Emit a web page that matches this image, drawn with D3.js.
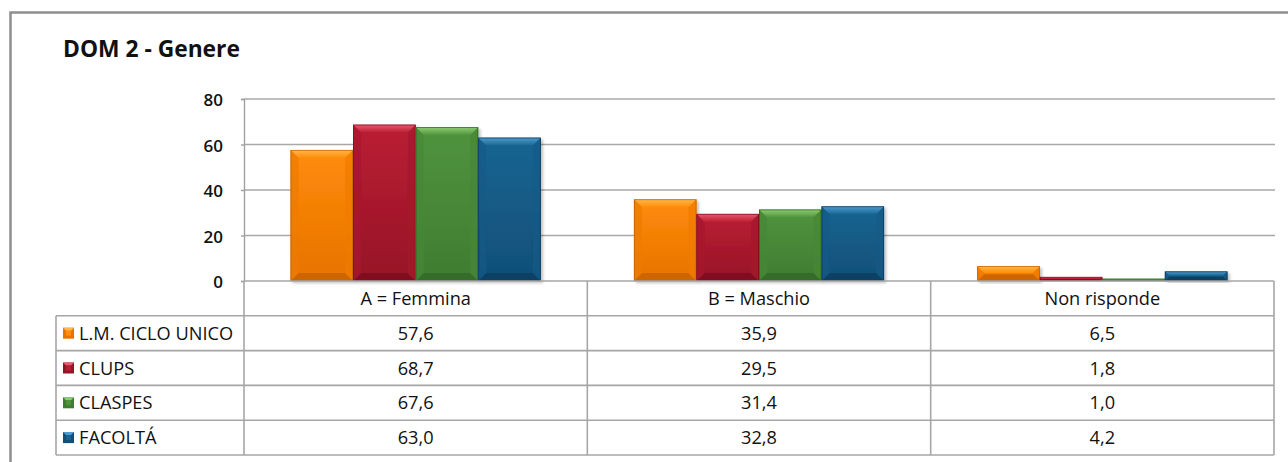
<!DOCTYPE html>
<html>
<head>
<meta charset="utf-8">
<script src="https://cdn.jsdelivr.net/npm/d3@7"></script>
<style>
  html, body { margin: 0; padding: 0; background: #fff; }
  svg { display: block; }
  text { font-family: "Open Sans", "Liberation Sans", sans-serif; fill: #111; }
</style>
</head>
<body>
<svg id="chart" width="1288" height="462"></svg>
<script>
// ---- data ----
const title = "DOM 2 - Genere";
const categories = ["A = Femmina", "B = Maschio", "Non risponde"];
const seriesNames = ["L.M. CICLO UNICO", "CLUPS", "CLASPES", "FACOLTÁ"];
const lmCicloUnico = [57.6, 35.9, 6.5];
const clups = [68.7, 29.5, 1.8];
const claspes = [67.6, 31.4, 1.0];
const facolta = [63.0, 32.8, 4.2];
const yTicks = [0, 20, 40, 60, 80];

const seriesValues = [lmCicloUnico, clups, claspes, facolta];

// ---- styles ----
const palette = [
  { body0: "#FF8C0A", body1: "#E87200", top: "#FFB84A", bottom: "#C86300", side: "#F07A00", edge: "#B85C00" },
  { body0: "#BA1E33", body1: "#961427", top: "#EA5A6C", bottom: "#7E0E1E", side: "#A8182C", edge: "#760C1C" },
  { body0: "#50933E", body1: "#3F7D31", top: "#8ECD70", bottom: "#34682A", side: "#468838", edge: "#2E5E24" },
  { body0: "#186592", body1: "#104F78", top: "#4F9CCF", bottom: "#0B3D5E", side: "#135A86", edge: "#0A3756" }
];

const svg = d3.select("#chart");
const W = 1288, H = 462;

// layout
const plotLeft = 244, plotRight = 1274, plotTop = 99, plotBottom = 281;
const tableLeft = 56;
const rowH = 34.8;

const defs = svg.append("defs");
palette.forEach((p, i) => {
  const g = defs.append("linearGradient").attr("id", "body" + i)
    .attr("x1", 0).attr("y1", 0).attr("x2", 0).attr("y2", 1);
  g.append("stop").attr("offset", "0%").attr("stop-color", p.body0);
  g.append("stop").attr("offset", "100%").attr("stop-color", p.body1);
  const t = defs.append("linearGradient").attr("id", "top" + i)
    .attr("x1", 0).attr("y1", 0).attr("x2", 0).attr("y2", 1);
  t.append("stop").attr("offset", "0%").attr("stop-color", p.top);
  t.append("stop").attr("offset", "100%").attr("stop-color", p.body0);
});
const f = defs.append("filter").attr("id", "shadow").attr("x", "-10%").attr("y", "-10%").attr("width", "130%").attr("height", "130%");
f.append("feDropShadow").attr("dx", 2).attr("dy", 2).attr("stdDeviation", 1.5).attr("flood-color", "#000").attr("flood-opacity", 0.25);

// outer border
svg.append("rect").attr("x", 10.5).attr("y", 12.5).attr("width", W + 20).attr("height", H + 20)
  .attr("fill", "#fff").attr("stroke", "#8E8E8E").attr("stroke-width", 2.5);

// title
svg.append("text").attr("x", 63).attr("y", 57).attr("font-size", 22.8).attr("font-weight", "bold").text(title);

// scales
const y = d3.scaleLinear().domain([0, 80]).range([plotBottom, plotTop]);
const x = d3.scaleBand().domain(categories).range([plotLeft, plotRight]).padding(0);
const xs = d3.scaleBand().domain(seriesNames).range([0, x.bandwidth()]).paddingInner(0).paddingOuter(0.745);

// gridlines
svg.append("g").selectAll("line").data(yTicks.filter(d => d > 0)).join("line")
  .attr("x1", plotLeft).attr("x2", plotRight + 1)
  .attr("y1", d => y(d)).attr("y2", d => y(d))
  .attr("stroke", "#A8A8A8").attr("stroke-width", 1.4);

// y axis
const yAxis = svg.append("g").attr("transform", `translate(${plotLeft},0)`)
  .call(d3.axisLeft(y).tickValues(yTicks).tickSize(3).tickPadding(18).tickFormat(d3.format("d")));
yAxis.select(".domain").attr("stroke", "#A0A0A0").attr("stroke-width", 1.4);
yAxis.selectAll(".tick line").attr("stroke", "#A0A0A0").attr("stroke-width", 1.4);
yAxis.selectAll(".tick text").attr("font-size", 17).attr("font-weight", 600)
  .attr("font-family", "'Open Sans', sans-serif").attr("fill", "#111").attr("dy", "0.62em").attr("y", -4);

// bars with bevel
function bevelBar(g, bx, by, bw, bh, i) {
  const p = palette[i];
  const b = Math.max(0, Math.min(8, bh / 2.2, bw / 4));
  const grp = g.append("g").attr("filter", "url(#shadow)");
  grp.append("rect").attr("x", bx).attr("y", by).attr("width", bw).attr("height", bh)
    .attr("fill", `url(#body${i})`);
  const poly = pts => pts.map(q => q.join(",")).join(" ");
  // top
  grp.append("polygon").attr("points", poly([[bx, by], [bx + bw, by], [bx + bw - b, by + b], [bx + b, by + b]]))
    .attr("fill", `url(#top${i})`);
  // bottom
  grp.append("polygon").attr("points", poly([[bx, by + bh], [bx + bw, by + bh], [bx + bw - b, by + bh - b], [bx + b, by + bh - b]]))
    .attr("fill", p.bottom).attr("opacity", 0.85);
  // left
  grp.append("polygon").attr("points", poly([[bx, by], [bx + b, by + b], [bx + b, by + bh - b], [bx, by + bh]]))
    .attr("fill", p.side).attr("opacity", 0.7);
  // right
  grp.append("polygon").attr("points", poly([[bx + bw, by], [bx + bw - b, by + b], [bx + bw - b, by + bh - b], [bx + bw, by + bh]]))
    .attr("fill", p.side).attr("opacity", 0.7);
  grp.append("rect").attr("x", bx + 0.4).attr("y", by + 0.4).attr("width", Math.max(0, bw - 0.8)).attr("height", Math.max(0, bh - 0.8))
    .attr("fill", "none").attr("stroke", p.edge).attr("stroke-width", 0.8).attr("opacity", 0.8);
}

const barsG = svg.append("g");
seriesNames.forEach((s, i) => {
  seriesValues[i].forEach((v, j) => {
    const bx = x(categories[j]) + xs(s);
    const by = y(v);
    bevelBar(barsG, bx, by, xs.bandwidth(), y(0) - by, i);
  });
});

// data table
const tbl = svg.append("g");
const lineColor = "#A6A6A6";
const nRows = seriesNames.length;
const tableBottom = plotBottom + rowH * (nRows + 1);
tbl.append("line").attr("x1", plotLeft).attr("x2", plotRight).attr("y1", plotBottom).attr("y2", plotBottom)
  .attr("stroke", lineColor).attr("stroke-width", 1.6);
d3.range(1, nRows + 2).forEach(k => {
  tbl.append("line").attr("x1", tableLeft).attr("x2", plotRight)
    .attr("y1", plotBottom + k * rowH).attr("y2", plotBottom + k * rowH)
    .attr("stroke", lineColor).attr("stroke-width", 1.6);
});
tbl.append("line").attr("x1", tableLeft).attr("x2", tableLeft).attr("y1", plotBottom + rowH).attr("y2", tableBottom)
  .attr("stroke", lineColor).attr("stroke-width", 1.6);
tbl.append("line").attr("x1", plotLeft).attr("x2", plotLeft).attr("y1", plotBottom).attr("y2", tableBottom)
  .attr("stroke", lineColor).attr("stroke-width", 1.6);
categories.forEach(c => {
  const xr = x(c) + x.bandwidth();
  tbl.append("line").attr("x1", xr).attr("x2", xr).attr("y1", plotBottom).attr("y2", tableBottom)
    .attr("stroke", lineColor).attr("stroke-width", 1.6);
});

const fs = 18.2;
const baseOff = fs * 0.36;
categories.forEach(c => {
  tbl.append("text").attr("x", x(c) + x.bandwidth() / 2).attr("y", plotBottom + rowH / 2 + baseOff)
    .attr("text-anchor", "middle").attr("font-size", fs).text(c);
});
const fmt = v => d3.format(".1f")(v).replace(".", ",");
seriesNames.forEach((s, i) => {
  const cy = plotBottom + rowH * (i + 1) + rowH / 2;
  const m = 11, mx = 63, my = cy - m / 2;
  const p = palette[i];
  const mg = tbl.append("g");
  mg.append("rect").attr("x", mx).attr("y", my).attr("width", m).attr("height", m).attr("fill", p.body1);
  mg.append("polygon").attr("points", `${mx},${my} ${mx + m},${my} ${mx + m - 3},${my + 3} ${mx + 3},${my + 3}`).attr("fill", p.top);
  mg.append("rect").attr("x", mx + 3).attr("y", my + 3).attr("width", m - 6).attr("height", m - 6).attr("fill", p.body0);
  tbl.append("text").attr("x", 79).attr("y", cy + baseOff).attr("font-size", fs).text(s);
  seriesValues[i].forEach((v, j) => {
    tbl.append("text").attr("x", x(categories[j]) + x.bandwidth() / 2).attr("y", cy + baseOff)
      .attr("text-anchor", "middle").attr("font-size", fs).text(fmt(v));
  });
});
</script>
</body>
</html>
